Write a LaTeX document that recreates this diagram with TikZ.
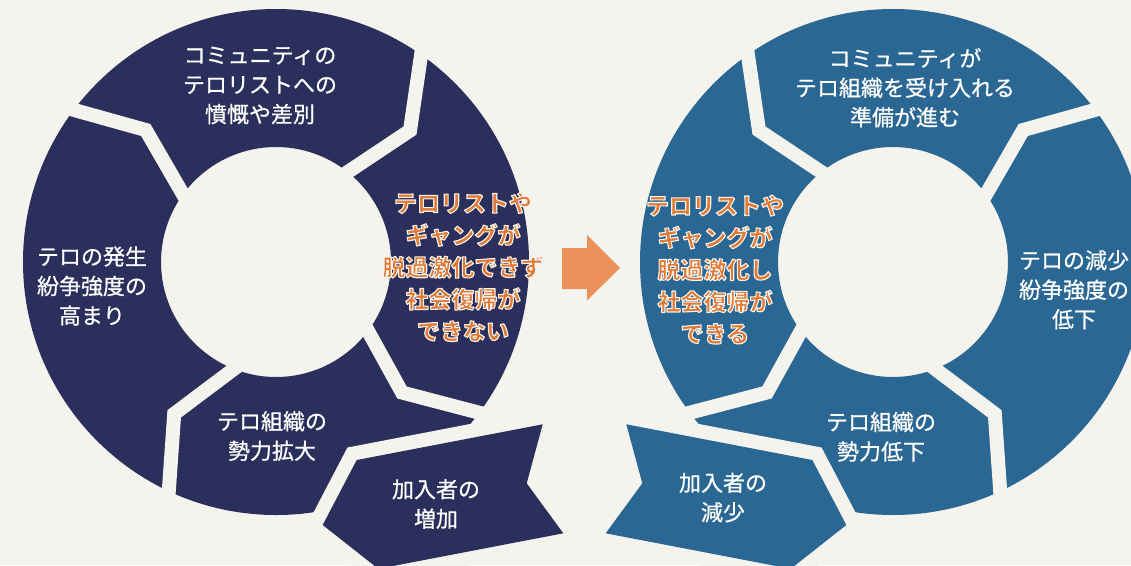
\documentclass[tikz,border=0pt]{standalone}
\usepackage{fontspec}
\newfontfamily\jp{Noto Sans CJK JP}
\newfontfamily\jpm{Noto Sans CJK JP}[FakeBold=0.7]
\usetikzlibrary{calc}
\definecolor{bgc}{HTML}{F5F3EE}
\definecolor{navy}{HTML}{2B2F5B}
\definecolor{steel}{HTML}{2A6793}
\definecolor{orangetxt}{HTML}{E07A36}
\definecolor{orangearr}{HTML}{EC915A}
\tikzset{
  gapline/.style={draw=bgc, line width=14pt, line cap=butt, line join=miter},
  wt/.style={text=white, font=\jpm\fontsize{22}{29.5}\selectfont, align=center, inner sep=0pt},
  ot/.style={text=orangetxt, font=\jp\bfseries\fontsize{23}{32}\selectfont, align=center, inner sep=0pt}
}
\newcommand\halostart{\special{pdf:literal direct 2 Tr 1.1 w 1 J 1 j 0.97 0.95 0.92 RG}}
\newcommand\haloend{\special{pdf:literal direct 0 Tr}}
\newcommand\cycleshape[1]{%
  \fill[#1, even odd rule] (276,262) circle[radius=253pt] (276,262) circle[radius=115pt];
  \foreach \ox/\oy/\mx/\my/\ix/\iy in {420.9/56.2/410/130.5/348.3/171.7, 476.5/412/402/392.5/367.5/330, 168.8/491.2/174.2/413.8/232.5/370, 74.2/110/145.8/130/181.8/192.3}
    {\draw[gapline] ($(\mx,\my)!1.35!(\ox,\oy)$) -- (\mx,\my) -- ($(\mx,\my)!1.5!(\ix,\iy)$);}
  \draw[bgc, line width=28pt, line join=miter] (356.7,460) -- (542.7,424.3) -- (526.7,483.3) -- (563.3,533.3) -- (378.3,568.8) -- (322.7,525) -- cycle;
  \fill[#1] (356.7,460) -- (542.7,424.3) -- (526.7,483.3) -- (563.3,533.3) -- (378.3,568.8) -- (322.7,525) -- cycle;
}
\begin{document}
\begin{tikzpicture}[x=1pt,y=-1pt]
\useasboundingbox (0,0) rectangle (1131,565);
\fill[bgc] (0,0) rectangle (1131,565);
\clip (0,0) rectangle (1131,565);
% left cycle
\begin{scope}
  \cycleshape{navy}
\end{scope}
% right cycle (mirror image)
\begin{scope}[xshift=1169pt, xscale=-1]
  \cycleshape{steel}
\end{scope}
% middle arrow
\fill[orangearr] (562,248) -- (587,248) -- (587,235) -- (620,268) -- (587,300.5) -- (587,289) -- (562,289) -- cycle;
% left texts
\node[wt] (L1) at (260,85.5) {コミュニティの\\テロリストへの\\憤慨や差別};
\node[wt] (L2) at (92,286) {テロの発生\\紛争強度の\\高まり};
\node[wt] (L3) at (272,436) {テロ組織の\\勢力拡大};
\node[wt] (L4) at (436,504) {加入者の\\増加};
\node[ot] (L5) at (463,267) {\halostart テロリストや\\ギャングが\\脱過激化できず\\社会復帰が\\できない\haloend};
% right texts
\node[wt] (R1) at (905,87.7) {コミュニティが\\テロ組織を受け入れる\\準備が進む};
\node[wt] (R2) at (1074,289.7) {テロの減少\\紛争強度の\\低下};
\node[wt] (R3) at (881,436.7) {テロ組織の\\勢力低下};
\node[wt] (R4) at (723,497.5) {加入者の\\減少};
\node[ot] (R5) at (715,269.5) {\halostart テロリストや\\ギャングが\\脱過激化し\\社会復帰が\\できる\haloend};
\end{tikzpicture}
\end{document}
